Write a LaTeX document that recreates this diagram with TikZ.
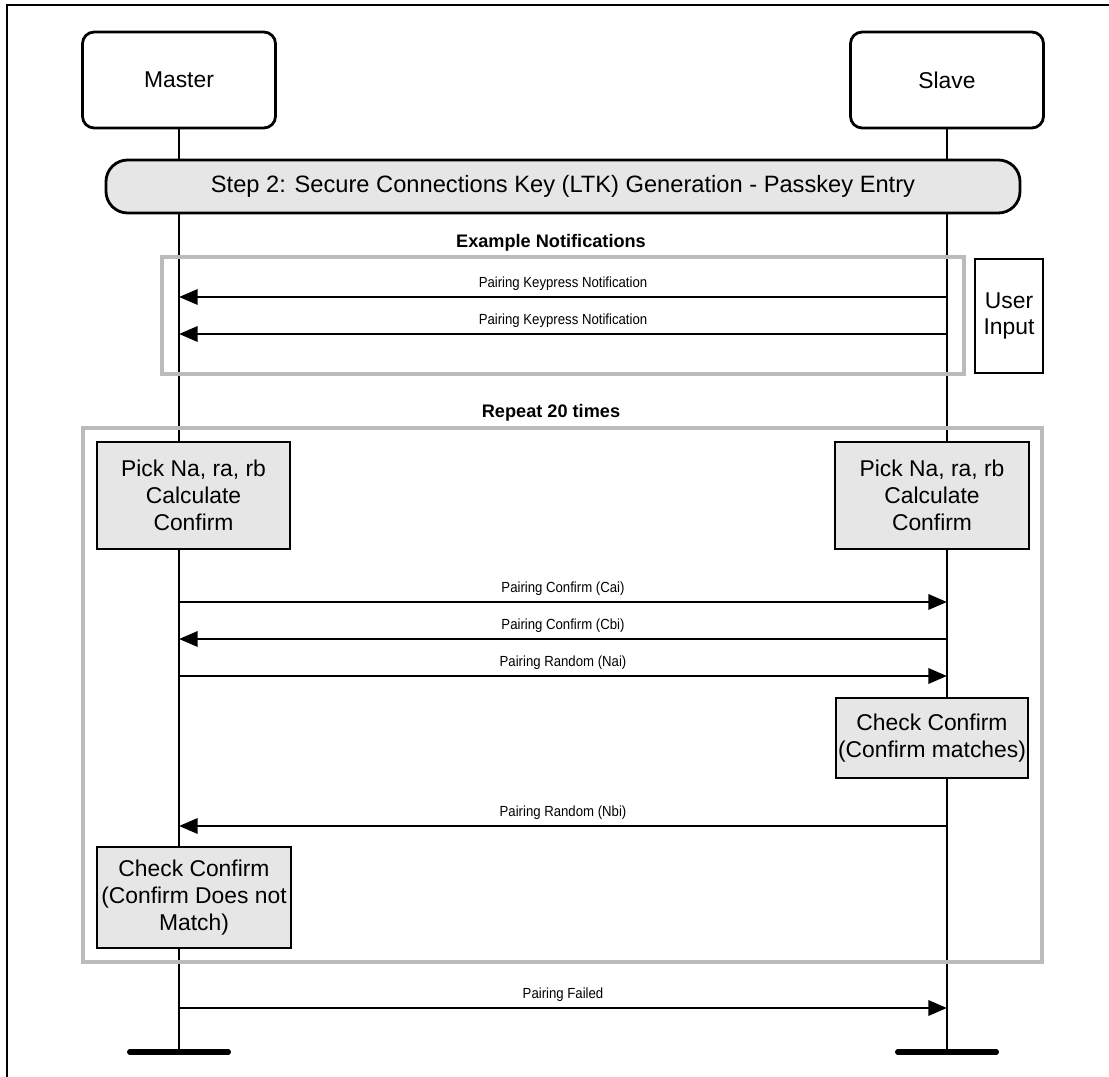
\documentclass[tikz,border=0pt]{standalone}
\usepackage{fontspec}
\setmainfont{Liberation Sans}
\newfontfamily\narrowfont[FakeStretch=0.9]{Liberation Sans}
\usetikzlibrary{arrows.meta,positioning}
\definecolor{framegray}{RGB}{187,187,187}
\definecolor{boxgray}{RGB}{230,230,230}
\newcommand\bigfs{\fontsize{19.5}{23}\selectfont}
\newcommand\msgfs{\narrowfont\fontsize{12.5}{14}\selectfont}
\newcommand\headfs{\fontsize{15.5}{18}\selectfont\bfseries}
\tikzset{
  entity/.style={draw, line width=2.4pt, rounded corners=10pt, minimum width=5.79cm, minimum height=2.88cm, font=\bigfs},
  banner/.style={draw, line width=2.4pt, fill=boxgray, rounded corners=0.65cm, minimum width=27.42cm, minimum height=1.59cm, font=\fontsize{20.2}{24}\selectfont},
  action/.style={draw, line width=2.4pt, fill=boxgray, align=center, inner sep=0pt, font=\bigfs},
  userbox/.style={draw, line width=1.1pt, align=center, minimum width=2.04cm, minimum height=3.42cm, inner sep=0pt, font=\bigfs},
  heading/.style={font=\headfs},
  group/.style={draw=framegray, line width=3.8pt},
  life/.style={line width=2.4pt},
  endbar/.style={line width=4.5pt, line cap=round},
  msg/.style={line width=2.5pt, -{Triangle[length=16pt,width=13pt]}},
  msglabel/.style={midway, above=1pt, font=\msgfs}
}

\begin{document}
\begin{tikzpicture}[x=0.03cm, y=-0.03cm]
  \useasboundingbox (0,0) rectangle (1109,1077);
  % page edge
  \draw[line width=1.7pt] (7,1077) -- (7,5) -- (1109,5);

  \node[entity] (master) at (179,80) {Master};
  \node[entity] (slave) at (947,80) {Slave};

  % lifelines
  \coordinate (mend) at (179,1052);
  \coordinate (send) at (947,1052);
  \draw[life] (master) -- (mend);
  \draw[life] (slave) -- (send);
  \draw[endbar] ([xshift=-1.48cm]mend) -- ([xshift=1.48cm]mend);
  \draw[endbar] ([xshift=-1.48cm]send) -- ([xshift=1.48cm]send);

  \foreach \n/\y in {k1/297,k2/334,c1/602,c2/639,r1/676,r2/826,f/1008} {
    \coordinate (m\n) at (179,\y);
    \coordinate (s\n) at (947,\y);
  }

  \node[banner] (step) at (563,186.5) {Step 2: Secure Connections Key (LTK) Generation - Passkey Entry};

  % notifications
  \node[heading] (exhead) at (551,243) {Example Notifications};
  \draw[group] (162,257) rectangle (964,374);
  \node[userbox] (user) at (1009,316) {User\\Input};
  \draw[msg] (sk1) -- node[msglabel] {Pairing Keypress Notification} (mk1);
  \draw[msg] (sk2) -- node[msglabel] {Pairing Keypress Notification} (mk2);

  % repeated part
  \node[heading] (rephead) at (551,413) {Repeat 20 times};
  \draw[group] (83,428) rectangle (1042,962);
  \node[action, minimum width=5.79cm, minimum height=3.21cm] (mpick) at (193.5,495.5) {Pick Na, ra, rb\\Calculate\\Confirm};
  \node[action, minimum width=5.82cm, minimum height=3.21cm] (spick) at (932,495.5) {Pick Na, ra, rb\\Calculate\\Confirm};
  \draw[msg] (mc1) -- node[msglabel] {Pairing Confirm (Cai)} (sc1);
  \draw[msg] (sc2) -- node[msglabel] {Pairing Confirm (Cbi)} (mc2);
  \draw[msg] (mr1) -- node[msglabel] {Pairing Random (Nai)} (sr1);
  \node[action, minimum width=5.76cm, minimum height=2.4cm] (schk) at (932,738) {Check Confirm\\(Confirm matches)};
  \draw[msg] (sr2) -- node[msglabel] {Pairing Random (Nbi)} (mr2);
  \node[action, minimum width=5.82cm, minimum height=3.03cm] (mchk) at (194,897.5) {Check Confirm\\(Confirm Does not\\Match)};

  \draw[msg] (mf) -- node[msglabel] {Pairing Failed} (sf);
\end{tikzpicture}
\end{document}
